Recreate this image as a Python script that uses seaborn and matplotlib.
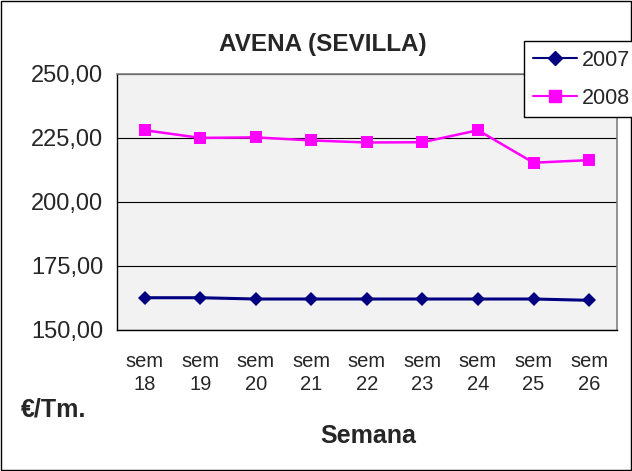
import numpy as np
import pandas as pd
import matplotlib
matplotlib.use("Agg")
import matplotlib.pyplot as plt
from matplotlib.ticker import FuncFormatter, FixedLocator
import seaborn as sns

# Data
weeks = ["sem\n18", "sem\n19", "sem\n20", "sem\n21", "sem\n22", "sem\n23", "sem\n24", "sem\n25", "sem\n26"]
price_2007 = [162.5, 162.5, 162.0, 162.0, 162.0, 162.0, 162.0, 162.0, 161.5]
price_2008 = [228.0, 225.0, 225.2, 224.0, 223.2, 223.3, 228.0, 215.3, 216.3]

df = pd.DataFrame({
    "pos": list(range(len(weeks))) * 2,
    "precio": price_2007 + price_2008,
    "anio": ["2007"] * len(weeks) + ["2008"] * len(weeks),
})

sns.set_style("white")
plt.rcParams["font.family"] = ["Liberation Sans", "DejaVu Sans"]

fig = plt.figure(figsize=(6.32, 4.71), dpi=100)
ax = fig.add_axes([0.185, 0.3, 0.791, 0.543])
ax.set_facecolor("#f2f2f2")

palette = {"2007": "#000080", "2008": "#ff00ff"}
sns.lineplot(data=df, x="pos", y="precio", hue="anio", style="anio",
             markers={"2007": "D", "2008": "s"}, dashes=False, palette=palette,
             markersize=9, linewidth=1.8, markeredgewidth=0, ax=ax, legend=False)
ax.lines[0].set_markersize(7.5)
ax.lines[0].set_linewidth(2.2)

ax.set_xlim(-0.5, len(weeks) - 0.5)
ax.set_ylim(150, 250)
ax.set_yticks([150, 175, 200, 225, 250])
ax.yaxis.set_major_formatter(FuncFormatter(lambda v, p: f"{v:.2f}".replace(".", ",")))
ax.grid(axis="y", color="black", linewidth=0.8)
ax.set_axisbelow(True)

ax.set_xticks(range(len(weeks)))
ax.set_xticklabels(weeks, fontsize=14.5, linespacing=1.3)
ax.xaxis.set_minor_locator(FixedLocator(np.arange(-0.5, len(weeks), 1.0)))
ax.tick_params(axis="x", which="major", length=0, pad=16)
ax.tick_params(axis="x", which="minor", length=6, width=1, color="black", direction="out")
ax.tick_params(axis="y", length=6, width=1, color="black", direction="out", labelsize=17, pad=4)

for side in ["left", "bottom"]:
    ax.spines[side].set_color("black")
    ax.spines[side].set_linewidth(1)
for side in ["top", "right"]:
    ax.spines[side].set_color("#808080")
    ax.spines[side].set_linewidth(1.2)

ax.set_xlabel("")
ax.set_ylabel("")

fig.text(0.51, 0.905, "AVENA (SEVILLA)", ha="center", va="center",
         fontsize=17.5, fontweight="bold")
fig.text(0.033, 0.13, "€/Tm.", ha="left", va="center", fontsize=18, fontweight="bold")
fig.text(0.583, 0.074, "Semana", ha="center", va="center", fontsize=18, fontweight="bold")

handles = [
    plt.Line2D([], [], color=palette["2007"], marker="D", markersize=7, linewidth=1.5),
    plt.Line2D([], [], color=palette["2008"], marker="s", markersize=9, linewidth=1.5),
]
leg = fig.legend(handles, ["2007", "2008"], loc="upper left",
                 bbox_to_anchor=(0.829, 0.913), fontsize=15.5, frameon=True,
                 fancybox=False, framealpha=1, edgecolor="black",
                 handlelength=2.05, handletextpad=0.25, borderpad=0.4,
                 labelspacing=0.8, borderaxespad=0)
leg.get_frame().set_linewidth(1)

fig.patches.append(plt.Rectangle((0.002, 0.003), 0.996, 0.994, transform=fig.transFigure,
                                 fill=False, edgecolor="black", linewidth=1))

fig.savefig("out.png", dpi=100)
